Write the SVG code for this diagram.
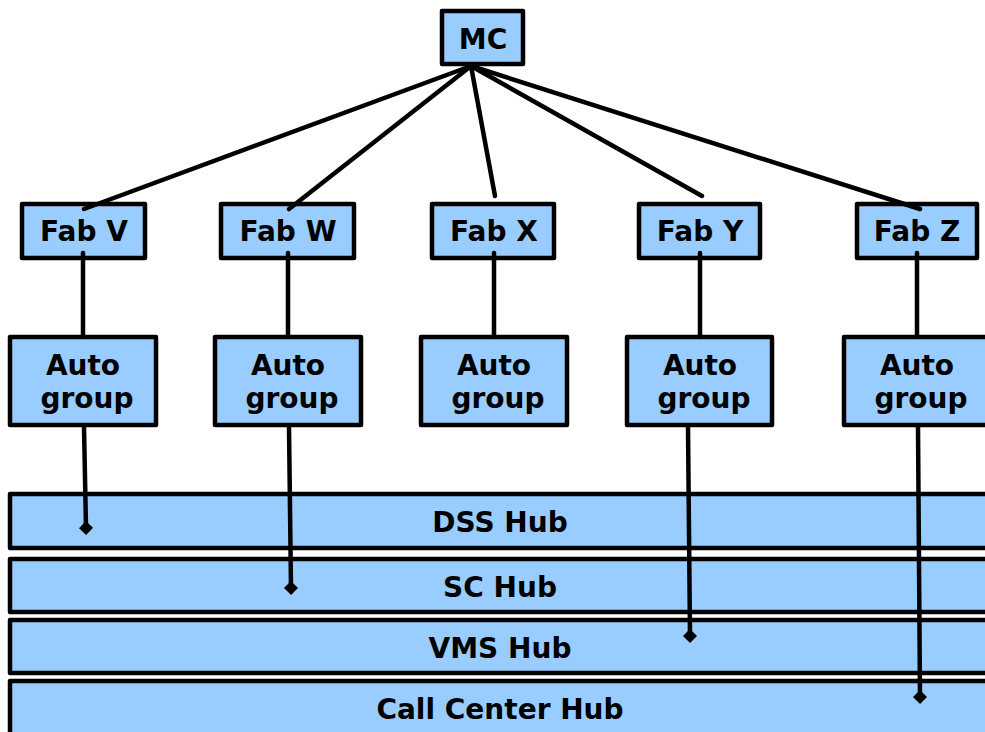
<svg xmlns="http://www.w3.org/2000/svg" width="985" height="732" viewBox="0 0 985 732">
<defs>
<style>
.box{fill:#99CCFF;stroke:#000;stroke-width:4.5;stroke-linejoin:round}
.t{font-family:"DejaVu Sans","Liberation Sans",sans-serif;font-weight:bold;font-size:28px;fill:#000;text-anchor:middle}
.c{stroke:#000;stroke-width:4.5;fill:none;stroke-linecap:round}
</style>
<marker id="dia" markerWidth="16" markerHeight="16" refX="7" refY="7" orient="auto" markerUnits="userSpaceOnUse">
<path d="M0,7 L7,0 L14,7 L7,14 Z" fill="#000"/>
</marker>
</defs>
<rect width="985" height="732" fill="#fff"/>
<g id="hub-dss"><rect class="box" x="10" y="494" width="985" height="54"/><text class="t" x="500" y="532">DSS Hub</text></g>
<g id="hub-sc"><rect class="box" x="10" y="559" width="985" height="53"/><text class="t" x="500" y="597">SC Hub</text></g>
<g id="hub-vms"><rect class="box" x="10" y="620" width="985" height="53"/><text class="t" x="500" y="658">VMS Hub</text></g>
<g id="hub-cc"><rect class="box" x="10" y="681" width="985" height="60"/><text class="t" x="500" y="719">Call Center Hub</text></g>
<g id="mc"><rect class="box" x="442" y="11" width="81" height="53"/><text class="t" x="483" y="49">MC</text></g>
<g id="fab-v"><rect class="box" x="22" y="204" width="123" height="54"/><text class="t" x="84" y="241">Fab V</text></g>
<g id="fab-w"><rect class="box" x="221" y="204" width="133" height="54"/><text class="t" x="288" y="241">Fab W</text></g>
<g id="fab-x"><rect class="box" x="432" y="204" width="122" height="54"/><text class="t" x="494" y="241">Fab X</text></g>
<g id="fab-y"><rect class="box" x="639" y="204" width="121" height="54"/><text class="t" x="700" y="241">Fab Y</text></g>
<g id="fab-z"><rect class="box" x="857" y="204" width="120" height="54"/><text class="t" x="917" y="241">Fab Z</text></g>
<g id="auto-v"><rect class="box" x="10" y="337" width="146" height="88"/><text class="t" x="83" y="375">Auto</text><text class="t" x="87" y="408">group</text></g>
<g id="auto-w"><rect class="box" x="215" y="337" width="146" height="88"/><text class="t" x="288" y="375">Auto</text><text class="t" x="292" y="408">group</text></g>
<g id="auto-x"><rect class="box" x="421" y="337" width="146" height="88"/><text class="t" x="494" y="375">Auto</text><text class="t" x="498" y="408">group</text></g>
<g id="auto-y"><rect class="box" x="627" y="337" width="145" height="88"/><text class="t" x="700" y="375">Auto</text><text class="t" x="704" y="408">group</text></g>
<g id="auto-z"><rect class="box" x="844" y="337" width="150" height="88"/><text class="t" x="917" y="375">Auto</text><text class="t" x="921" y="408">group</text></g>
<g id="connectors">
<line class="c" x1="471" y1="66" x2="84" y2="209"/>
<line class="c" x1="471" y1="66" x2="289" y2="209"/>
<line class="c" x1="471" y1="66" x2="495" y2="196"/>
<line class="c" x1="471" y1="66" x2="702" y2="196"/>
<line class="c" x1="471" y1="66" x2="920" y2="209"/>
<line class="c" x1="83" y1="253" x2="83" y2="337"/>
<line class="c" x1="288" y1="253" x2="288" y2="337"/>
<line class="c" x1="494" y1="253" x2="494" y2="337"/>
<line class="c" x1="700" y1="253" x2="700" y2="337"/>
<line class="c" x1="917" y1="253" x2="917" y2="337"/>
<line class="c" x1="84" y1="427" x2="86" y2="528" marker-end="url(#dia)"/>
<line class="c" x1="289" y1="427" x2="291" y2="588" marker-end="url(#dia)"/>
<line class="c" x1="688" y1="427" x2="690" y2="636" marker-end="url(#dia)"/>
<line class="c" x1="918" y1="427" x2="920" y2="697" marker-end="url(#dia)"/>
</g>
</svg>
